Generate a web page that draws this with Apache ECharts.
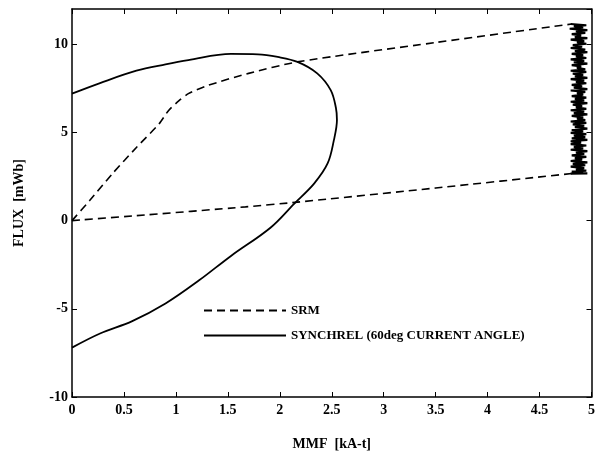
<!DOCTYPE html>
<html><head><meta charset="utf-8">
<script src="https://cdn.jsdelivr.net/npm/echarts@6/dist/echarts.min.js"></script>
<style>html,body{margin:0;padding:0;background:#fff}#c{width:598px;height:457px}</style>
</head><body><div id="c"></div>
<script>
// SRM flux-linkage loop (dashed)
const srmUpperX = [0, 0.17, 0.39, 0.62, 0.84, 0.93, 1.03, 1.12, 1.31, 1.70, 2.17, 3.50, 4.81];
const srmUpperY = [0, 1.14, 2.67, 4.15, 5.5, 6.25, 6.8, 7.2, 7.67, 8.35, 9.0, 10.1, 11.15];
const srmLowerX = [4.81, 3.50, 2.17, 1.67, 0.62, 0];
const srmLowerY = [2.67, 1.85, 1.05, 0.78, 0.28, 0];
// SRM chattering segment near 4.9 kA-t (hand-read scribble)
const noiseX = [4.80,4.95,4.83,4.92,4.79,4.96,4.85,4.94,4.81,4.90,4.84,4.96,4.80,4.93,4.86,4.95,4.82,4.91,4.80,4.94,
  4.84,4.96,4.81,4.92,4.85,4.95,4.80,4.93,4.83,4.96,4.81,4.90,4.86,4.94,4.80,4.95,4.82,4.92,4.84,4.96,
  4.80,4.93,4.85,4.95,4.81,4.91,4.83,4.96,4.80,4.94,4.86,4.92,4.81,4.95,4.84,4.93,4.80,4.96,4.82,4.91,
  4.85,4.95,4.80,4.93,4.83,4.96,4.81,4.92,4.86,4.94,4.80,4.95,4.82,4.93,4.84,4.96,4.81,4.92,4.80,4.95,
  4.83,4.94,4.81,4.96,4.80,4.90];
const noiseY = [11.15,11.08,11.02,10.95,10.88,10.80,10.74,10.65,10.58,10.50,10.41,10.35,10.26,10.18,10.10,10.03,9.95,9.86,9.79,9.70,
  9.62,9.55,9.46,9.38,9.31,9.22,9.14,9.06,8.98,8.90,8.82,8.75,8.66,8.58,8.50,8.43,8.34,8.26,8.18,8.10,
  8.02,7.94,7.86,7.79,7.70,7.62,7.54,7.46,7.38,7.30,7.22,7.14,7.06,6.98,6.90,6.82,6.74,6.66,6.58,6.50,
  6.42,6.34,6.26,6.18,6.10,6.02,5.94,5.86,5.78,5.70,5.62,5.54,5.46,5.38,5.30,5.22,5.14,5.06,4.98,4.90,
  4.82,4.74,4.66,4.58,4.50,4.42];
const noiseX2 = [4.90,4.80,4.95,4.83,4.92,4.80,4.96,4.85,4.93,4.81,4.95,4.84,4.91,4.80,4.96,4.82,4.94,4.80,4.93,4.85,
  4.95,4.81,4.92,4.83,4.96,4.80,4.81];
const noiseY2 = [4.42,4.34,4.26,4.18,4.10,4.02,3.94,3.86,3.78,3.70,3.62,3.54,3.46,3.38,3.30,3.22,3.14,3.06,2.98,2.90,
  2.84,2.78,2.74,2.70,2.68,2.66,2.67];
// SYNCHREL (60deg current angle) loop (solid)
const synX = [0, 0.27, 0.62, 0.90, 1.12, 1.53, 1.79, 1.98, 2.17, 2.36, 2.49, 2.54, 2.55, 2.52, 2.46, 2.33, 2.14, 1.91, 1.53, 1.22, 0.90, 0.58, 0.27, 0];
const synY = [7.2, 7.8, 8.5, 8.86, 9.1, 9.45, 9.43, 9.28, 9.0, 8.35, 7.4, 6.4, 5.7, 4.55, 3.24, 2.1, 0.97, -0.4, -2.0, -3.4, -4.7, -5.7, -6.4, -7.2];
const xTicks = ['0','0.5','1','1.5','2','2.5','3','3.5','4','4.5','5'];
const yTicks = ['-10','-5','0','5','10'];
const seriesNames = ['SRM', 'SYNCHREL (60deg CURRENT ANGLE)'];

const zip = (a, b) => a.map((v, i) => [v, b[i]]);
const font = 'Liberation Serif';
const chart = echarts.init(document.getElementById('c'));
const baseX = {
  type: 'value', min: 0, max: 5, interval: 0.5,
  axisLine: { show: true, onZero: false, lineStyle: { color: '#000', width: 1.5 } },
  axisTick: { show: true, inside: true, length: 5, lineStyle: { color: '#000' } },
  splitLine: { show: false }
};
const baseY = {
  type: 'value', min: -10, max: 12, interval: 5,
  axisLine: { show: true, onZero: false, lineStyle: { color: '#000', width: 1.5 } },
  axisTick: { show: true, inside: true, length: 5, lineStyle: { color: '#000' } },
  splitLine: { show: false }
};
chart.setOption({
  animation: false,
  backgroundColor: '#fff',
  grid: { left: 72, right: 2, top: 9, bottom: 60, containLabel: false },
  xAxis: [
    Object.assign({}, baseX, {
      position: 'bottom', name: 'MMF  [kA-t]', nameLocation: 'middle', nameGap: 40,
      nameTextStyle: { fontFamily: font, fontSize: 14, fontWeight: 'bold', color: '#000' },
      axisLabel: { fontFamily: font, fontSize: 14, fontWeight: 'bold', color: '#000', margin: 6,
        formatter: v => xTicks[Math.round(v * 2)] }
    }),
    Object.assign({}, baseX, { position: 'top', axisLabel: { show: false } })
  ],
  yAxis: [
    Object.assign({}, baseY, {
      position: 'left', name: 'FLUX  [mWb]', nameLocation: 'middle', nameGap: 46,
      nameTextStyle: { fontFamily: font, fontSize: 14, fontWeight: 'bold', color: '#000' },
      axisLabel: { fontFamily: font, fontSize: 14, fontWeight: 'bold', color: '#000', margin: 4,
        showMaxLabel: false,
        formatter: v => { const i = yTicks.indexOf(String(v)); return i >= 0 ? yTicks[i] : ''; } }
    }),
    Object.assign({}, baseY, { position: 'right', axisLabel: { show: false } })
  ],
  legend: {
    show: true, orient: 'vertical', left: 198, top: 299,
    itemWidth: 82, itemHeight: 14, itemGap: 12,
    data: seriesNames,
    itemStyle: { opacity: 0 },
    textStyle: { fontFamily: font, fontSize: 13, fontWeight: 'bold', color: '#000' }
  },
  series: [
    { name: seriesNames[0], type: 'line', data: zip(srmUpperX, srmUpperY), symbol: 'none', smooth: 0.25,
      itemStyle: { color: '#000' },
      lineStyle: { color: '#000', width: 1.6, type: [8, 5] } },
    { name: 'srm-lower', type: 'line', data: zip(srmLowerX, srmLowerY), symbol: 'none', smooth: 0.2,
      itemStyle: { color: '#000' },
      lineStyle: { color: '#000', width: 1.6, type: [8, 5] } },
    { name: 'srm-chatter', type: 'line', data: zip(noiseX, noiseY).concat(zip(noiseX2, noiseY2)), symbol: 'none',
      itemStyle: { color: '#000' },
      lineStyle: { color: '#000', width: 2.2, type: 'solid' } },
    { name: seriesNames[1], type: 'line', data: zip(synX, synY), symbol: 'none', smooth: 0.35,
      itemStyle: { color: '#000' },
      lineStyle: { color: '#000', width: 1.8, type: 'solid' } }
  ]
});
</script></body></html>
